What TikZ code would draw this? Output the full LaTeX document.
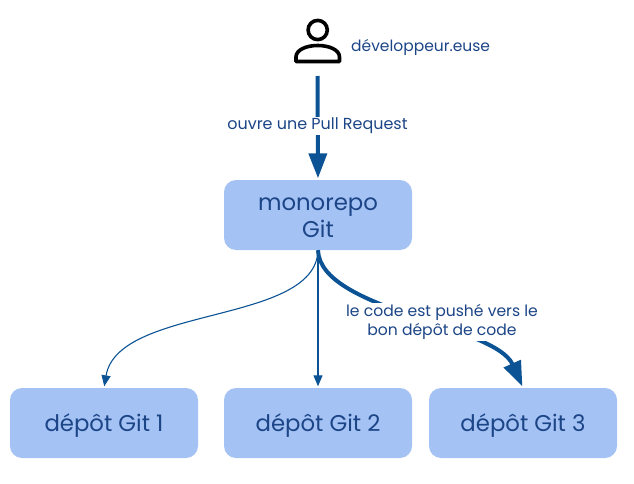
\documentclass[tikz,border=0pt]{standalone}
\usepackage{fontspec}
\setmainfont{Poppins}
\usetikzlibrary{arrows.meta}
\definecolor{boxblue}{HTML}{A4C2F4}
\definecolor{linkblue}{HTML}{0B5394}
\definecolor{txtblue}{HTML}{1C4587}
\tikzset{
  repo/.style={fill=boxblue,rounded corners=12pt,minimum width=188pt,minimum height=70pt,inner sep=0pt},
  repotext/.style={text=txtblue,align=center,inner sep=0pt,font=\fontsize{22.8}{27}\selectfont},
  lbl/.style={fill=white,text=txtblue,align=center,inner sep=1pt,font=\fontsize{15.6}{19.5}\selectfont},
  thin link/.style={draw=linkblue,line width=1.1pt,-{Triangle[length=11pt,width=9pt]},shorten >=1.5pt},
  thick link/.style={draw=linkblue,line width=4pt,-{Triangle[length=25pt,width=18pt]},shorten >=1.5pt},
}
\begin{document}
\begin{tikzpicture}[x=1pt,y=-1pt]
\useasboundingbox (0,0) rectangle (634,484);
\node[repo] (mono) at (318,215) {};
\node[repo] (d1) at (104,423) {};
\node[repo] (d2) at (318,423) {};
\node[repo] (d3) at (523,423) {};
\node[repotext] (monot) at (318,217.5) {monorepo\\Git};
\node[repotext] (d1t) at (104,425.5) {dépôt Git 1};
\node[repotext] (d2t) at (318,425.5) {dépôt Git 2};
\node[repotext] (d3t) at (523,425.5) {dépôt Git 3};
\coordinate (dev) at (317.5,76);
% person icon
\draw[black,line width=3.6pt] (317.7,30) circle (9.6);
\draw[black,line width=3.6pt,line join=round] (296,61.5) -- (296,57) .. controls (296,50) and (306,45.5) .. (317.7,45.5) .. controls (329.5,45.5) and (339.5,50) .. (339.5,57) -- (339.5,61.5) -- cycle;
\node[anchor=west,text=txtblue,inner sep=0pt,font=\fontsize{15.5}{18}\selectfont] (devl) at (351,47.5) {développeur.euse};
% connectors
\draw[thick link] (dev) -- (mono.north);
\draw[thin link] (mono.south) .. controls (316,325) and (118,305) .. (d1.north);
\draw[thin link] (mono.south) -- (d2.north);
\draw[thick link] (mono.south) .. controls (320,310) and (495,325) .. (d3.north);
\node[lbl,font=\fontsize{15.95}{19.5}\selectfont] (l1) at (317.5,126) {ouvre une Pull Request};
\node[lbl] (l2) at (442,322) {le code est pushé vers le\\bon dépôt de code};
\end{tikzpicture}
\end{document}
